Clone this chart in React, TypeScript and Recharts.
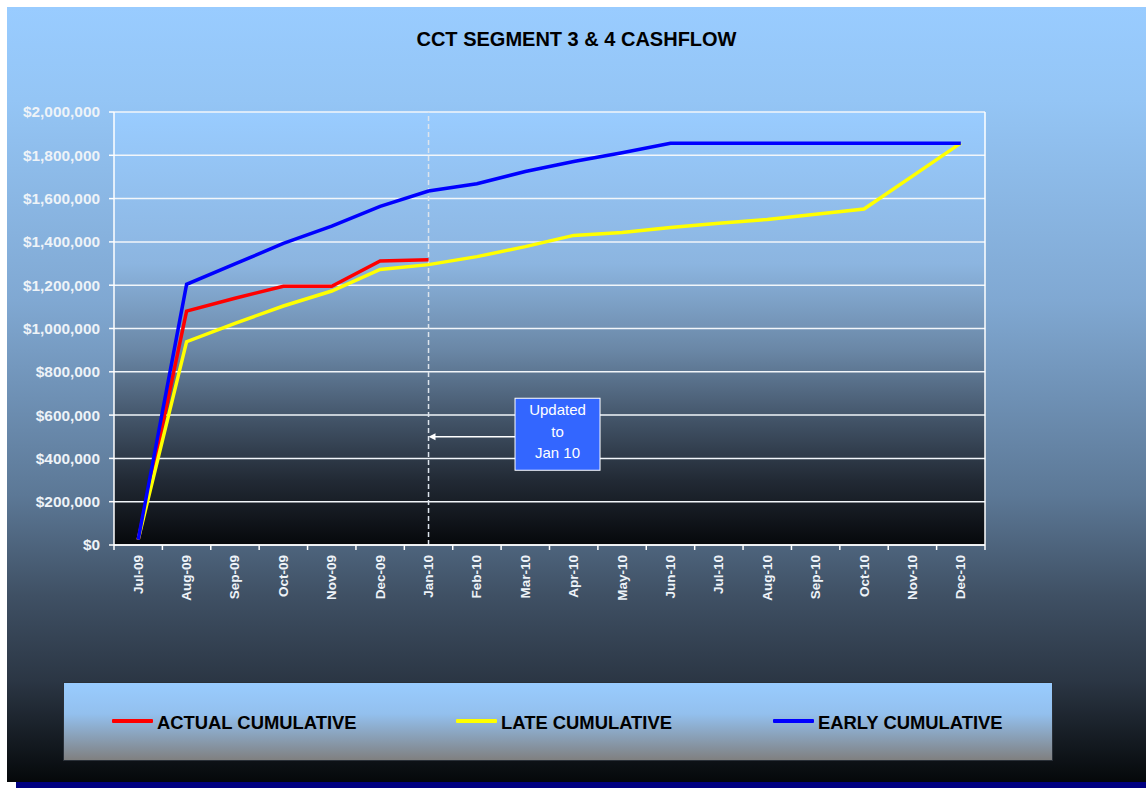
import React from 'react';
import { LineChart, Line, XAxis, YAxis, CartesianGrid, ReferenceLine, ReferenceDot } from 'recharts';

const months = ['Jul-09', 'Aug-09', 'Sep-09', 'Oct-09', 'Nov-09', 'Dec-09', 'Jan-10', 'Feb-10', 'Mar-10', 'Apr-10', 'May-10', 'Jun-10', 'Jul-10', 'Aug-10', 'Sep-10', 'Oct-10', 'Nov-10', 'Dec-10'];
const actualCumulative: (number | null)[] = [25000, 1080000, 1140000, 1195000, 1195000, 1312000, 1318000, null, null, null, null, null, null, null, null, null, null, null];
const lateCumulative = [25000, 939000, 1024000, 1104000, 1173000, 1273000, 1295000, 1332000, 1378000, 1430000, 1443000, 1466000, 1486000, 1504000, 1528000, 1552000, 1704000, 1856000];
const earlyCumulative = [25000, 1204000, 1298000, 1393000, 1473000, 1564000, 1635000, 1669000, 1725000, 1771000, 1812000, 1856000, 1856000, 1856000, 1856000, 1856000, 1856000, 1856000];
const yTicks = [0, 200000, 400000, 600000, 800000, 1000000, 1200000, 1400000, 1600000, 1800000, 2000000];

const seriesList = [
  { key: 'actual', name: 'ACTUAL CUMULATIVE', color: '#ff0000' },
  { key: 'late', name: 'LATE CUMULATIVE', color: '#ffff00' },
  { key: 'early', name: 'EARLY CUMULATIVE', color: '#0000ff' },
];

const title = 'CCT SEGMENT 3 & 4 CASHFLOW';
const updateMonth = 'Jan-10';
const annotationValue = 500000;
const annotationLines = ['Updated', 'to', 'Jan 10'];

const data = months.map((m, i) => ({
  month: m,
  actual: actualCumulative[i],
  late: lateCumulative[i],
  early: earlyCumulative[i],
}));

const FONT = '"Liberation Sans", Arial, sans-serif';
const LABEL_FILL = '#eef3f8';

const fmtLeft = (v: number) => '$' + v.toLocaleString('en-US');
const fmtRight = (v: number) => '$' + v.toLocaleString('en-US', { minimumFractionDigits: 2, maximumFractionDigits: 2 });

const XTick = (props: any) => {
  const { x, y, payload, index, visibleTicksCount } = props;
  const half = payload && typeof payload.offset === 'number' && payload.offset > 0 ? payload.offset : 24.2;
  const last = index === (visibleTicksCount ?? months.length) - 1;
  return (
    <g>
      <line x1={x - half} x2={x - half} y1={y} y2={y + 5} stroke="#ffffff" strokeWidth={1.5} />
      {last && <line x1={x + half} x2={x + half} y1={y} y2={y + 5} stroke="#ffffff" strokeWidth={1.5} />}
      <text
        transform={`translate(${x + 4.5},${y + 10}) rotate(-90)`}
        textAnchor="end"
        fill={LABEL_FILL}
        fontSize={13.5}
        fontWeight="bold"
        fontFamily={FONT}
      >
        {payload.value}
      </text>
    </g>
  );
};

const AnnotationShape = (props: any) => {
  const { cx, cy } = props;
  if (cx == null || cy == null) return null;
  const bx = cx + 86.5;
  const bw = 85;
  const by = cy - 38.5;
  const bh = 72;
  return (
    <g>
      <line x1={cx + 5} x2={bx} y1={cy} y2={cy} stroke="#ffffff" strokeWidth={1.5} />
      <polygon points={`${cx},${cy} ${cx + 7},${cy - 3.5} ${cx + 7},${cy + 3.5}`} fill="#ffffff" />
      <rect x={bx} y={by} width={bw} height={bh} fill="#3366ff" stroke="#ffffff" strokeWidth={1} />
      {annotationLines.map((t, i) => (
        <text
          key={i}
          x={bx + bw / 2}
          y={cy - 21.5 + i * 21.6}
          textAnchor="middle"
          fill="#ffffff"
          fontSize={15}
          fontFamily={FONT}
        >
          {t}
        </text>
      ))}
    </g>
  );
};

const legendOffsets = [49, 393, 710];

export default function App() {
  return (
    <div style={{ position: 'absolute', left: 0, top: 0, width: 1146, height: 788, overflow: 'hidden', background: '#ffffff' }}>
      <div style={{ position: 'absolute', left: 16, top: 16, width: 1140, height: 772, background: '#000080' }} />
      <div
        style={{
          position: 'absolute',
          left: 7,
          top: 7,
          width: 1139,
          height: 775,
          background:
            'linear-gradient(to bottom, #99ccff 0%, #94c5f5 12%, #80a8d2 38%, #5c7896 63%, #3f5064 76%, #2b3644 87%, #05080a 100%)',
        }}
      />
      <div
        style={{
          position: 'absolute',
          left: 7,
          top: 29,
          width: 1139,
          textAlign: 'center',
          fontFamily: FONT,
          fontWeight: 'bold',
          fontSize: 20,
          lineHeight: '20px',
          color: '#000000',
          whiteSpace: 'nowrap',
        }}
      >
        {title}
      </div>
      <div style={{ position: 'absolute', left: 0, top: 0 }}>
        <LineChart width={1146} height={788} data={data} margin={{ top: 112, right: 0, bottom: 183, left: 0 }}>
          <defs>
            <linearGradient id="plotBg" x1="0" y1="0" x2="0" y2="1">
              <stop offset="0%" stopColor="#99ccff" />
              <stop offset="35%" stopColor="#8cb5e0" />
              <stop offset="55%" stopColor="#6a87a6" />
              <stop offset="70%" stopColor="#45576c" />
              <stop offset="85%" stopColor="#222a35" />
              <stop offset="100%" stopColor="#06080b" />
            </linearGradient>
          </defs>
          <CartesianGrid
            yAxisId="left"
            vertical={false}
            stroke="#f2f6fa"
            strokeWidth={1.5}
            fill="url(#plotBg)"
            fillOpacity={1}
          />
          <XAxis
            dataKey="month"
            scale="band"
            interval={0}
            height={60}
            tickLine={false}
            tickSize={0}
            tickMargin={0}
            axisLine={{ stroke: '#ffffff', strokeWidth: 1.5 }}
            tick={<XTick />}
          />
          <YAxis
            yAxisId="left"
            orientation="left"
            width={114}
            domain={[0, 2000000]}
            ticks={yTicks}
            interval={0}
            tickFormatter={fmtLeft}
            tickSize={5}
            tickMargin={9}
            axisLine={{ stroke: '#ffffff', strokeWidth: 1.5 }}
            tickLine={{ stroke: '#ffffff', strokeWidth: 1.5 }}
            tick={{ fill: LABEL_FILL, fontSize: 15.4, fontWeight: 'bold', fontFamily: FONT }}
          />
          <YAxis
            yAxisId="right"
            orientation="right"
            width={161}
            domain={[0, 2000000]}
            ticks={yTicks}
            interval={0}
            tickFormatter={fmtRight}
            tickSize={5}
            tickMargin={8}
            axisLine={{ stroke: '#ffffff', strokeWidth: 1.5 }}
            tickLine={{ stroke: '#ffffff', strokeWidth: 1.5 }}
            tick={{ fill: LABEL_FILL, fontSize: 15.4, fontWeight: 'bold', fontFamily: FONT, textAnchor: 'start' }}
          />
          <ReferenceLine
            yAxisId="left"
            x={updateMonth}
            stroke="#dde4ec"
            strokeWidth={1.5}
            strokeDasharray="5 3"
          />
          {seriesList.map((s) => (
            <Line
              key={s.key}
              yAxisId="left"
              type="linear"
              dataKey={s.key}
              name={s.name}
              stroke={s.color}
              strokeWidth={3.5}
              dot={false}
              activeDot={false}
              connectNulls={false}
              isAnimationActive={false}
            />
          ))}
          <ReferenceDot
            yAxisId="left"
            x={updateMonth}
            y={annotationValue}
            r={0}
            shape={<AnnotationShape />}
          />
        </LineChart>
      </div>
      <div
        style={{
          position: 'absolute',
          left: 63,
          top: 682,
          width: 990,
          height: 79,
          boxSizing: 'border-box',
          border: '1px solid #2a3038',
          background: 'linear-gradient(to bottom, #99ccff 0%, #93c0ee 40%, #808080 100%)',
        }}
      >
        {seriesList.map((s, i) => (
          <div key={s.key} style={{ position: 'absolute', left: legendOffsets[i] - 1, top: 0, height: 77 }}>
            <div
              style={{
                position: 'absolute',
                left: 0,
                top: 36,
                width: 41,
                height: 4,
                background: s.color,
                borderRadius: 1,
              }}
            />
            <div
              style={{
                position: 'absolute',
                left: 45,
                top: 31,
                fontFamily: FONT,
                fontWeight: 'bold',
                fontSize: 18.4,
                lineHeight: '18px',
                color: '#000000',
                whiteSpace: 'nowrap',
              }}
            >
              {s.name}
            </div>
          </div>
        ))}
      </div>
    </div>
  );
}
